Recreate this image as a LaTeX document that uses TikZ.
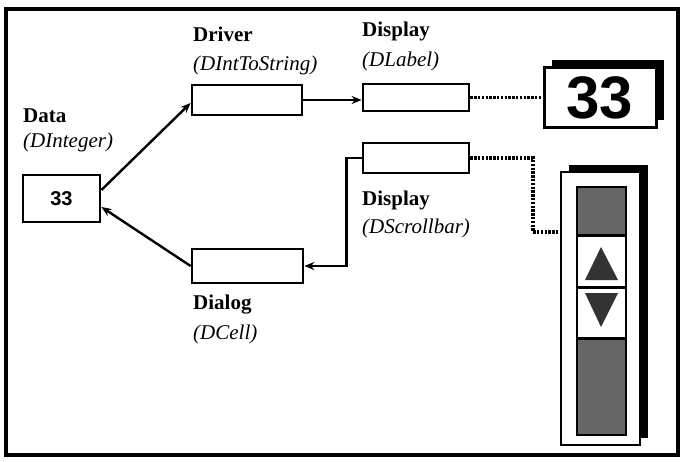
\documentclass[tikz,border=0pt]{standalone}
\usepackage{fontspec}
\setmainfont{Liberation Serif}
\newfontfamily\sansb{Liberation Sans}
\usetikzlibrary{arrows.meta}
\begin{document}
\begin{tikzpicture}[x=1pt,y=-1pt,
  lbl/.style={anchor=base west, inner sep=0, font=\fontsize{21}{25}\selectfont\bfseries},
  cls/.style={anchor=base west, inner sep=0, font=\fontsize{21}{25}\selectfont\itshape},
  obox/.style={draw, line width=2.8pt, fill=white, inner sep=0},
  arr/.style={line width=2.4pt, -{Stealth[length=10pt,width=8pt]}},
  dotl/.style={line width=3.2pt, dash pattern=on 2.4pt off 1.4pt},
  shadowbox/.style={fill=black},
  stip/.style={draw, line width=2pt, fill=black!60},
  btn/.style={draw, line width=2pt, fill=white},
  tri/.style={fill=black!80},
]
\useasboundingbox (0,0) rectangle (682,462);
\draw[line width=3.5pt] (6,9) rectangle (678,455);

% boxes
\node[obox, minimum width=77pt, minimum height=47pt] (data) at (61.5,198.5)
  {\sansb\bfseries\fontsize{20}{24}\selectfont 33};
\node[obox, minimum width=110pt, minimum height=30pt] (driver) at (247,100) {};
\node[obox, minimum width=106pt, minimum height=27pt] (dlabel) at (416,97.5) {};
\node[obox, minimum width=106pt, minimum height=30pt] (dscroll) at (416,158) {};
\node[obox, minimum width=111pt, minimum height=34pt] (dialog) at (247.5,266) {};

% labels
\node[lbl] (tdata) at (23,123) {Data};
\node[cls] (cdata) at (23,148) {(DInteger)};
\node[lbl] (tdriver) at (193,42) {Driver};
\node[cls] (cdriver) at (193,71) {(DIntToString)};
\node[lbl] (tdlabel) at (362,37) {Display};
\node[cls] (cdlabel) at (362,67) {(DLabel)};
\node[lbl] (tdscroll) at (362,206) {Display};
\node[cls] (cdscroll) at (362,234) {(DScrollbar)};
\node[lbl] (tdialog) at (193,309) {Dialog};
\node[cls] (cdialog) at (193,339) {(DCell)};

% 33 display widget
\fill[shadowbox] (552,60) rectangle (664,120);
\node[obox, line width=3pt, minimum width=112pt, minimum height=60pt] (disp) at (600,98)
  {\sansb\bfseries\fontsize{60}{60}\selectfont 33};

% scrollbar widget
\fill[shadowbox] (569,165) rectangle (648,438);
\node[obox, line width=2.5pt, minimum width=79pt, minimum height=273pt] (scrollbar) at (600.5,308.5) {};
\draw[stip] (577,187) rectangle (626,235);
\draw[btn] (577,236) rectangle (626,287);
\draw[btn] (577,288) rectangle (626,338);
\draw[stip] (577,339) rectangle (626,435);
\fill[tri] (601,247) -- (585,280) -- (618,280) -- cycle;
\fill[tri] (585,293) -- (618,293) -- (601,327) -- cycle;

% connectors
\draw[arr] ([yshift=8.5pt]data.east) -- ([yshift=-3pt]driver.west);
\draw[arr] (driver.east) -- (driver.east -| dlabel.west);
\draw[arr] (dscroll.west) -- ++(-15,0) |- (dialog.east);
\draw[arr] (dialog.west) -- ([yshift=-8.5pt]data.east);
\draw[dotl] (dlabel.east) -- (dlabel.east -| disp.west);
\coordinate (bend) at (533,232);
\draw[dotl] (dscroll.east) -| (bend) -- (bend -| scrollbar.west);
\end{tikzpicture}
\end{document}
